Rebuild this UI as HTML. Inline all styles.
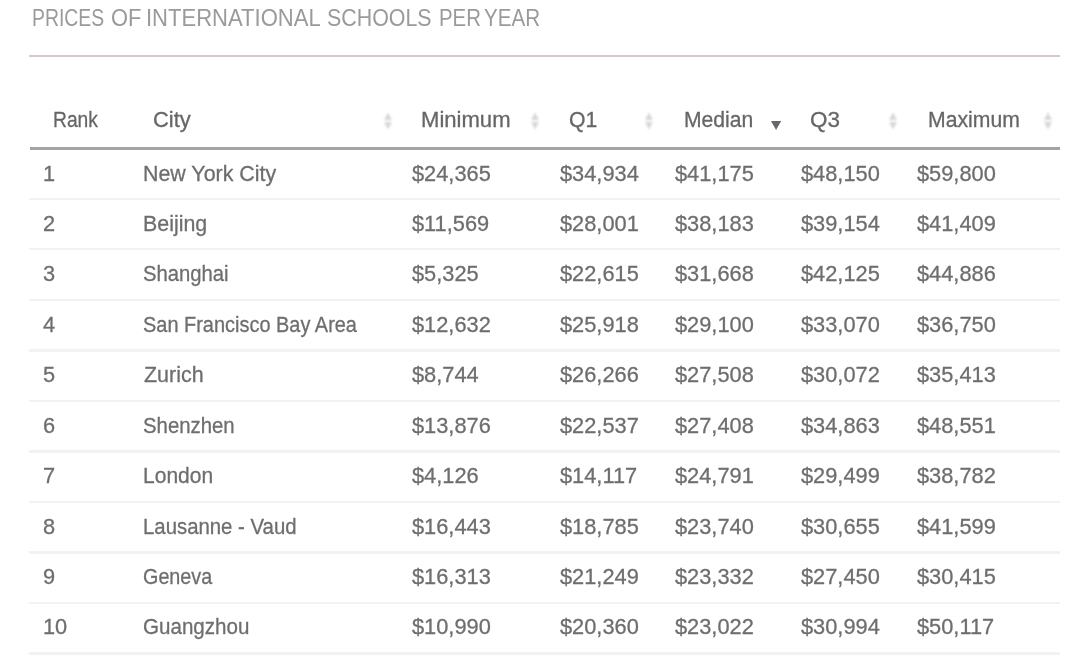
<!DOCTYPE html>
<html><head><meta charset="utf-8"><style>
html,body{margin:0;padding:0;background:#fff;}
body{width:1080px;height:655px;overflow:hidden;position:relative;font-family:"Liberation Sans",sans-serif;}
#w{position:absolute;left:0;top:0;width:1080px;height:655px;filter:blur(0.6px);}
.t{position:absolute;white-space:nowrap;line-height:1;transform-origin:0 0;}
.ti{font-size:23.4px;color:#9a9a9a;}
.h{font-size:22.2px;color:#666;-webkit-text-stroke:0.3px #666;}
.b{font-size:22.2px;color:#6e6e6e;-webkit-text-stroke:0.3px #6e6e6e;}
.ln{position:absolute;}
.si{position:absolute;width:8px;height:18px;filter:blur(0.85px);}
</style></head><body><div id="w">

<div class="t ti" id="t_PRICES" style="left:31.56px;top:6.89px;transform:scaleX(0.8295);">PRICES</div>
<div class="t ti" id="t_OF" style="left:110.54px;top:6.89px;transform:scaleX(0.9341);">OF</div>
<div class="t ti" id="t_INTERNATIONAL" style="left:146.41px;top:6.89px;transform:scaleX(0.9420);">INTERNATIONAL</div>
<div class="t ti" id="t_SCHOOLS" style="left:326.88px;top:6.89px;transform:scaleX(0.9148);">SCHOOLS</div>
<div class="t ti" id="t_PER" style="left:439.27px;top:6.89px;transform:scaleX(0.8727);">PER</div>
<div class="t ti" id="t_YEAR" style="left:484.12px;top:6.89px;transform:scaleX(0.8804);">YEAR</div>
<div class="t h" id="h_Rank" style="left:52.73px;top:109.11px;transform:scaleX(0.8674);">Rank</div>
<div class="t h" id="h_City" style="left:152.90px;top:109.11px;transform:scaleX(0.9868);">City</div>
<div class="t h" id="h_Minimum" style="left:421.09px;top:109.11px;transform:scaleX(0.9948);">Minimum</div>
<div class="t h" id="h_Q1" style="left:568.55px;top:109.11px;transform:scaleX(0.9567);">Q1</div>
<div class="t h" id="h_Median" style="left:683.94px;top:109.11px;transform:scaleX(0.9523);">Median</div>
<div class="t h" id="h_Q3" style="left:810.06px;top:109.11px;transform:scaleX(1.0125);">Q3</div>
<div class="t h" id="h_Maximum" style="left:927.59px;top:109.11px;transform:scaleX(0.9550);">Maximum</div>
<div class="t b" id="n_0_0" style="left:43.00px;top:162.61px;transform:scaleX(0.9820);">1</div>
<div class="t b" id="c_0" style="left:143.38px;top:162.61px;transform:scaleX(0.9639);">New York City</div>
<div class="t b" id="n_0_2" style="left:412.00px;top:162.61px;transform:scaleX(0.9820);">$24,365</div>
<div class="t b" id="n_0_3" style="left:560.00px;top:162.61px;transform:scaleX(0.9820);">$34,934</div>
<div class="t b" id="n_0_4" style="left:675.00px;top:162.61px;transform:scaleX(0.9820);">$41,175</div>
<div class="t b" id="n_0_5" style="left:801.00px;top:162.61px;transform:scaleX(0.9820);">$48,150</div>
<div class="t b" id="n_0_6" style="left:917.00px;top:162.61px;transform:scaleX(0.9820);">$59,800</div>
<div class="t b" id="n_1_0" style="left:43.00px;top:213.03px;transform:scaleX(0.9820);">2</div>
<div class="t b" id="c_1" style="left:143.39px;top:213.03px;transform:scaleX(0.9636);">Beijing</div>
<div class="t b" id="n_1_2" style="left:412.00px;top:213.03px;transform:scaleX(0.9820);">$11,569</div>
<div class="t b" id="n_1_3" style="left:560.00px;top:213.03px;transform:scaleX(0.9820);">$28,001</div>
<div class="t b" id="n_1_4" style="left:675.00px;top:213.03px;transform:scaleX(0.9820);">$38,183</div>
<div class="t b" id="n_1_5" style="left:801.00px;top:213.03px;transform:scaleX(0.9820);">$39,154</div>
<div class="t b" id="n_1_6" style="left:917.00px;top:213.03px;transform:scaleX(0.9820);">$41,409</div>
<div class="t b" id="n_2_0" style="left:43.00px;top:263.45px;transform:scaleX(0.9820);">3</div>
<div class="t b" id="c_2" style="left:143.38px;top:263.45px;transform:scaleX(0.9129);">Shanghai</div>
<div class="t b" id="n_2_2" style="left:412.00px;top:263.45px;transform:scaleX(0.9820);">$5,325</div>
<div class="t b" id="n_2_3" style="left:560.00px;top:263.45px;transform:scaleX(0.9820);">$22,615</div>
<div class="t b" id="n_2_4" style="left:675.00px;top:263.45px;transform:scaleX(0.9820);">$31,668</div>
<div class="t b" id="n_2_5" style="left:801.00px;top:263.45px;transform:scaleX(0.9820);">$42,125</div>
<div class="t b" id="n_2_6" style="left:917.00px;top:263.45px;transform:scaleX(0.9820);">$44,886</div>
<div class="t b" id="n_3_0" style="left:43.00px;top:313.87px;transform:scaleX(0.9820);">4</div>
<div class="t b" id="c_3" style="left:143.38px;top:313.87px;transform:scaleX(0.8989);">San Francisco Bay Area</div>
<div class="t b" id="n_3_2" style="left:412.00px;top:313.87px;transform:scaleX(0.9820);">$12,632</div>
<div class="t b" id="n_3_3" style="left:560.00px;top:313.87px;transform:scaleX(0.9820);">$25,918</div>
<div class="t b" id="n_3_4" style="left:675.00px;top:313.87px;transform:scaleX(0.9820);">$29,100</div>
<div class="t b" id="n_3_5" style="left:801.00px;top:313.87px;transform:scaleX(0.9820);">$33,070</div>
<div class="t b" id="n_3_6" style="left:917.00px;top:313.87px;transform:scaleX(0.9820);">$36,750</div>
<div class="t b" id="n_4_0" style="left:43.00px;top:364.29px;transform:scaleX(0.9820);">5</div>
<div class="t b" id="c_4" style="left:144.32px;top:364.29px;transform:scaleX(0.9665);">Zurich</div>
<div class="t b" id="n_4_2" style="left:412.00px;top:364.29px;transform:scaleX(0.9820);">$8,744</div>
<div class="t b" id="n_4_3" style="left:560.00px;top:364.29px;transform:scaleX(0.9820);">$26,266</div>
<div class="t b" id="n_4_4" style="left:675.00px;top:364.29px;transform:scaleX(0.9820);">$27,508</div>
<div class="t b" id="n_4_5" style="left:801.00px;top:364.29px;transform:scaleX(0.9820);">$30,072</div>
<div class="t b" id="n_4_6" style="left:917.00px;top:364.29px;transform:scaleX(0.9820);">$35,413</div>
<div class="t b" id="n_5_0" style="left:43.00px;top:414.71px;transform:scaleX(0.9820);">6</div>
<div class="t b" id="c_5" style="left:143.39px;top:414.71px;transform:scaleX(0.9174);">Shenzhen</div>
<div class="t b" id="n_5_2" style="left:412.00px;top:414.71px;transform:scaleX(0.9820);">$13,876</div>
<div class="t b" id="n_5_3" style="left:560.00px;top:414.71px;transform:scaleX(0.9820);">$22,537</div>
<div class="t b" id="n_5_4" style="left:675.00px;top:414.71px;transform:scaleX(0.9820);">$27,408</div>
<div class="t b" id="n_5_5" style="left:801.00px;top:414.71px;transform:scaleX(0.9820);">$34,863</div>
<div class="t b" id="n_5_6" style="left:917.00px;top:414.71px;transform:scaleX(0.9820);">$48,551</div>
<div class="t b" id="n_6_0" style="left:43.00px;top:465.13px;transform:scaleX(0.9820);">7</div>
<div class="t b" id="c_6" style="left:143.41px;top:465.13px;transform:scaleX(0.9475);">London</div>
<div class="t b" id="n_6_2" style="left:412.00px;top:465.13px;transform:scaleX(0.9820);">$4,126</div>
<div class="t b" id="n_6_3" style="left:560.00px;top:465.13px;transform:scaleX(0.9820);">$14,117</div>
<div class="t b" id="n_6_4" style="left:675.00px;top:465.13px;transform:scaleX(0.9820);">$24,791</div>
<div class="t b" id="n_6_5" style="left:801.00px;top:465.13px;transform:scaleX(0.9820);">$29,499</div>
<div class="t b" id="n_6_6" style="left:917.00px;top:465.13px;transform:scaleX(0.9820);">$38,782</div>
<div class="t b" id="n_7_0" style="left:43.00px;top:515.55px;transform:scaleX(0.9820);">8</div>
<div class="t b" id="c_7" style="left:143.46px;top:515.55px;transform:scaleX(0.9176);">Lausanne - Vaud</div>
<div class="t b" id="n_7_2" style="left:412.00px;top:515.55px;transform:scaleX(0.9820);">$16,443</div>
<div class="t b" id="n_7_3" style="left:560.00px;top:515.55px;transform:scaleX(0.9820);">$18,785</div>
<div class="t b" id="n_7_4" style="left:675.00px;top:515.55px;transform:scaleX(0.9820);">$23,740</div>
<div class="t b" id="n_7_5" style="left:801.00px;top:515.55px;transform:scaleX(0.9820);">$30,655</div>
<div class="t b" id="n_7_6" style="left:917.00px;top:515.55px;transform:scaleX(0.9820);">$41,599</div>
<div class="t b" id="n_8_0" style="left:43.00px;top:565.97px;transform:scaleX(0.9820);">9</div>
<div class="t b" id="c_8" style="left:143.39px;top:565.97px;transform:scaleX(0.8911);">Geneva</div>
<div class="t b" id="n_8_2" style="left:412.00px;top:565.97px;transform:scaleX(0.9820);">$16,313</div>
<div class="t b" id="n_8_3" style="left:560.00px;top:565.97px;transform:scaleX(0.9820);">$21,249</div>
<div class="t b" id="n_8_4" style="left:675.00px;top:565.97px;transform:scaleX(0.9820);">$23,332</div>
<div class="t b" id="n_8_5" style="left:801.00px;top:565.97px;transform:scaleX(0.9820);">$27,450</div>
<div class="t b" id="n_8_6" style="left:917.00px;top:565.97px;transform:scaleX(0.9820);">$30,415</div>
<div class="t b" id="n_9_0" style="left:43.00px;top:616.39px;transform:scaleX(0.9820);">10</div>
<div class="t b" id="c_9" style="left:143.37px;top:616.39px;transform:scaleX(0.9277);">Guangzhou</div>
<div class="t b" id="n_9_2" style="left:412.00px;top:616.39px;transform:scaleX(0.9820);">$10,990</div>
<div class="t b" id="n_9_3" style="left:560.00px;top:616.39px;transform:scaleX(0.9820);">$20,360</div>
<div class="t b" id="n_9_4" style="left:675.00px;top:616.39px;transform:scaleX(0.9820);">$23,022</div>
<div class="t b" id="n_9_5" style="left:801.00px;top:616.39px;transform:scaleX(0.9820);">$30,994</div>
<div class="t b" id="n_9_6" style="left:917.00px;top:616.39px;transform:scaleX(0.9820);">$50,117</div>
<div class="ln" style="left:29px;top:55px;width:1031px;height:2px;background:#d4c9cc"></div>
<svg class="si" style="left:384.0px;top:111.5px" viewBox="0 0 8 18"><path d="M4 0.5 L8 8 H0Z M0 10 H8 L4 17.5Z" fill="#d6d6d6"/></svg>
<svg class="si" style="left:531.3px;top:111.5px" viewBox="0 0 8 18"><path d="M4 0.5 L8 8 H0Z M0 10 H8 L4 17.5Z" fill="#d6d6d6"/></svg>
<svg class="si" style="left:645.0px;top:111.5px" viewBox="0 0 8 18"><path d="M4 0.5 L8 8 H0Z M0 10 H8 L4 17.5Z" fill="#d6d6d6"/></svg>
<svg class="si" style="left:889.0px;top:111.5px" viewBox="0 0 8 18"><path d="M4 0.5 L8 8 H0Z M0 10 H8 L4 17.5Z" fill="#d6d6d6"/></svg>
<svg class="si" style="left:1044.3px;top:111.5px" viewBox="0 0 8 18"><path d="M4 0.5 L8 8 H0Z M0 10 H8 L4 17.5Z" fill="#d6d6d6"/></svg>
<svg style="position:absolute;left:771.2px;top:120.6px;width:10.2px;height:9px;filter:blur(0.5px)" viewBox="0 0 10.2 9"><path d="M0 0 H10.2 L5.1 9Z" fill="#66666c"/></svg>
<div class="ln" style="left:30px;top:147.1px;width:1030px;height:2.6px;background:#a3a3a3"></div>
<div class="ln" style="left:29px;top:197.50px;width:1031px;height:2.4px;background:#f2f2f2"></div>
<div class="ln" style="left:29px;top:248.05px;width:1031px;height:2.4px;background:#f2f2f2"></div>
<div class="ln" style="left:29px;top:298.60px;width:1031px;height:2.4px;background:#f2f2f2"></div>
<div class="ln" style="left:29px;top:349.15px;width:1031px;height:2.4px;background:#f2f2f2"></div>
<div class="ln" style="left:29px;top:399.70px;width:1031px;height:2.4px;background:#f2f2f2"></div>
<div class="ln" style="left:29px;top:450.25px;width:1031px;height:2.4px;background:#f2f2f2"></div>
<div class="ln" style="left:29px;top:500.80px;width:1031px;height:2.4px;background:#f2f2f2"></div>
<div class="ln" style="left:29px;top:551.35px;width:1031px;height:2.4px;background:#f2f2f2"></div>
<div class="ln" style="left:29px;top:601.90px;width:1031px;height:2.4px;background:#f2f2f2"></div>
<div class="ln" style="left:29px;top:652.45px;width:1031px;height:2.4px;background:#f2f2f2"></div>
</div></body></html>
